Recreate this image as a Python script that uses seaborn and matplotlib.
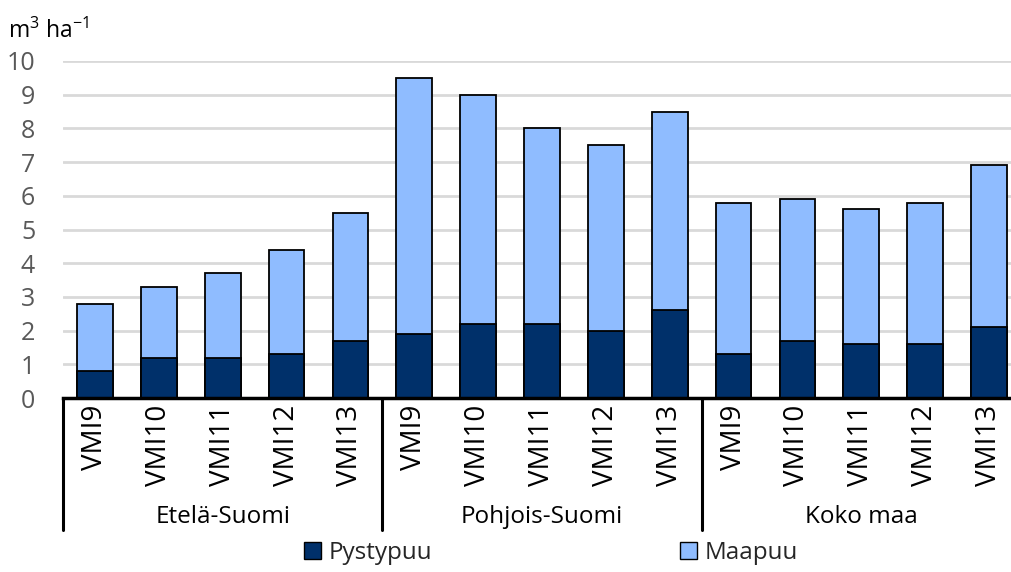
import matplotlib
matplotlib.use("Agg")
import matplotlib.pyplot as plt
from matplotlib.patches import Patch
import seaborn as sns
import pandas as pd

# ---- data ----
regions = ["Etelä-Suomi", "Pohjois-Suomi", "Koko maa"]
inventories = ["VMI9", "VMI10", "VMI11", "VMI12", "VMI13"]
pystypuu = [0.8, 1.2, 1.2, 1.3, 1.7,
            1.9, 2.2, 2.2, 2.0, 2.6,
            1.3, 1.7, 1.6, 1.6, 2.1]
total = [2.8, 3.3, 3.7, 4.4, 5.5,
         9.5, 9.0, 8.0, 7.5, 8.5,
         5.8, 5.9, 5.6, 5.8, 6.9]
maapuu = [t - p for t, p in zip(total, pystypuu)]
series_names = ["Pystypuu", "Maapuu"]
y_ticks = [0, 1, 2, 3, 4, 5, 6, 7, 8, 9, 10]
unit_label = r"m$^\mathregular{3}$ ha$^\mathregular{-1}$"

keys = [f"{r}|{v}" for r in regions for v in inventories]
df = pd.DataFrame({
    "key": keys,
    "region": [r for r in regions for _ in inventories],
    "inv": [v for _ in regions for v in inventories],
    "pysty": pystypuu,
    "maa": maapuu,
})
df["total"] = df["pysty"] + df["maa"]

# ---- style ----
sns.set_theme(style="white")
plt.rcParams["font.family"] = ["Open Sans", "DejaVu Sans"]
dark = "#00306A"
light = "#8FBCFF"
grey_txt = "#595959"

W, H = 1012, 572
fig = plt.figure(figsize=(W / 100, H / 100), dpi=100)
ax_left, ax_right, ax_top, ax_bot = 63, 1021, 61, 398
ax = fig.add_axes([ax_left / W, (H - ax_bot) / H,
                   (ax_right - ax_left) / W, (ax_bot - ax_top) / H])

sns.barplot(data=df, x="key", y="total", order=keys, color=light,
            saturation=1, edgecolor="black", linewidth=1.3, width=0.56,
            ax=ax, zorder=3)
sns.barplot(data=df, x="key", y="pysty", order=keys, color=dark,
            saturation=1, edgecolor="black", linewidth=1.3, width=0.56,
            ax=ax, zorder=4)

ax.set_xlim(-0.5, len(keys) - 0.5)
ax.set_ylim(0, 10)
ax.set_yticks(y_ticks)
ax.yaxis.grid(True, color="#D9D9D9", linewidth=2, zorder=0)
ax.set_axisbelow(True)
ax.tick_params(axis="y", length=0, pad=20, labelsize=18, labelcolor=grey_txt)
ax.set_xticks(range(len(keys)))
ax.set_xticklabels(df["inv"], rotation=90, fontsize=20, color="black")
ax.tick_params(axis="x", length=0, pad=5)
for lab in ax.get_xticklabels():
    lab.set_verticalalignment("top")
ax.set_xlabel("")
ax.set_ylabel("")
for s in ["left", "top", "right"]:
    ax.spines[s].set_visible(False)
ax.spines["bottom"].set_color("black")
ax.spines["bottom"].set_linewidth(2.5)
ax.spines["bottom"].set_zorder(5)

trans = ax.get_xaxis_transform()
h_px = ax_bot - ax_top
y_sep = -(530 - ax_bot) / h_px
for x in [-0.5, 4.5, 9.5, 14.5]:
    ax.plot([x, x], [0, y_sep], transform=trans, color="black",
            linewidth=2.2, clip_on=False, zorder=5)
y_grp = -(517 - ax_bot) / h_px
for i, r in enumerate(regions):
    ax.text(i * 5 + 2, y_grp, r, transform=trans, ha="center", va="center",
            fontsize=17.5, color="black")

fig.text(8 / W, 1 - 31 / H, unit_label, ha="left", va="center",
         fontsize=16.5, color="black")

handles = [Patch(facecolor=dark, edgecolor="black", linewidth=1),
           Patch(facecolor=light, edgecolor="black", linewidth=1)]
fig.legend(handles, series_names, loc="center", ncol=2,
           bbox_to_anchor=(551 / W, 1 - 553 / H), frameon=False,
           fontsize=17.5, handlelength=0.7, handleheight=0.7,
           handletextpad=0.3, columnspacing=10.2)

fig.savefig("out.png", dpi=100)
